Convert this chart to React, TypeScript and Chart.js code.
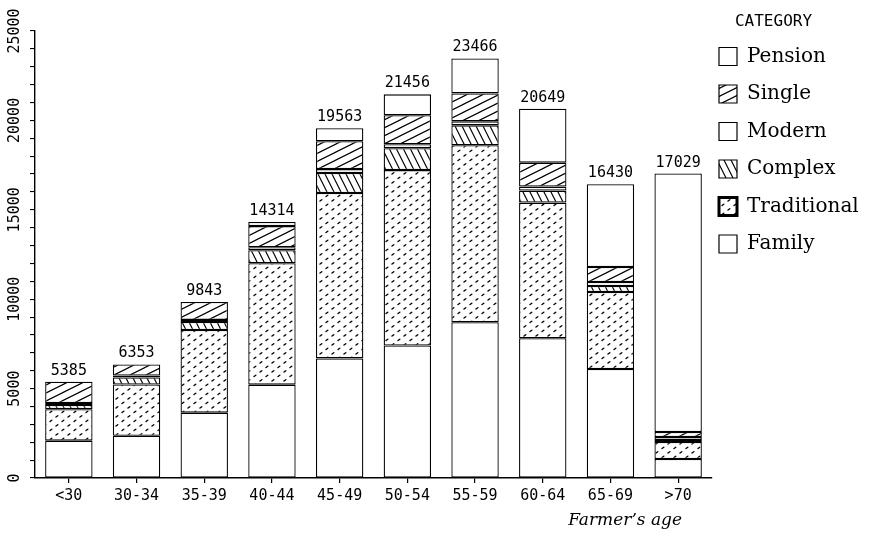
import React, { useEffect, useRef } from 'react';
import { Chart, registerables } from 'chart.js';

Chart.register(...registerables);

// ---- data (stack order: bottom → top) ----
const ageGroups = ['<30', '30-34', '35-39', '40-44', '45-49', '50-54', '55-59', '60-64', '65-69', '>70'];
const family = [2090, 2360, 3656, 5220, 6689, 7413, 8715, 7813, 6100, 1064];
const traditional = [1760, 2870, 4625, 6789, 9250, 9808, 9892, 7591, 4300, 952];
const complex = [230, 390, 450, 730, 1115, 1226, 1117, 670, 336, 112];
const modern = [110, 110, 112, 170, 223, 223, 223, 223, 224, 168];
const single = [1195, 623, 1000, 1180, 1561, 1616, 1564, 1339, 841, 280];
const pension = [0, 0, 0, 225, 725, 1170, 1955, 3013, 4629, 14453];
const totals = ['5385', '6353', '9843', '14314', '19563', '21456', '23466', '20649', '16430', '17029'];
const yMajorTicks = [0, 5000, 10000, 15000, 20000, 25000];
const legendTitle = 'CATEGORY';
const xAxisTitle = 'Farmer’s age';

function makePattern(kind: string): CanvasPattern | string {
  const c = document.createElement('canvas');
  let w = 16, h = 8;
  if (kind === 'complex') { w = 7; h = 14; }
  if (kind === 'dots') { w = 12; h = 9; }
  c.width = w; c.height = h;
  const g = c.getContext('2d');
  if (!g) return '#fff';
  g.fillStyle = '#fff';
  g.fillRect(0, 0, w, h);
  g.strokeStyle = '#000';
  g.lineWidth = 1.2;
  g.lineCap = 'round';
  g.beginPath();
  if (kind === 'single') {
    for (let k = -1; k <= 1; k++) {
      g.moveTo(-2, 9 + 8 * k);
      g.lineTo(18, -1 + 8 * k);
    }
  } else if (kind === 'complex') {
    for (let k = -1; k <= 1; k++) {
      g.moveTo(-1, -2 + 14 * k);
      g.lineTo(8, 16 + 14 * k);
    }
  } else if (kind === 'dots') {
    g.lineWidth = 1.4;
    g.moveTo(2, 7.5); g.lineTo(3.8, 6.2);
    g.moveTo(8, 3); g.lineTo(9.8, 1.7);
  }
  g.stroke();
  const p = g.createPattern(c, 'repeat');
  return p || '#fff';
}

const customPlugin = {
  id: 'customDecor',
  afterLayout(chart: any) {
    const lg = chart.legend;
    if (lg) {
      lg.left = chart.chartArea.right - 10.5;
      lg.right = chart.width;
      lg.width = 144;
      lg.top = 0;
    }
  },
  afterDatasetsDraw(chart: any) {
    const ctx = chart.ctx;
    const meta = chart.getDatasetMeta(chart.data.datasets.length - 1);
    ctx.save();
    ctx.fillStyle = '#000';
    ctx.font = '15px "DejaVu Sans Mono"';
    ctx.textAlign = 'center';
    ctx.textBaseline = 'alphabetic';
    meta.data.forEach((el: any, i: number) => {
      ctx.fillText(totals[i], el.x, el.y - 7);
    });
    ctx.font = 'italic 17px "DejaVu Serif"';
    ctx.textAlign = 'right';
    ctx.fillText(xAxisTitle, chart.chartArea.right - 30, 525);
    ctx.restore();
  },
};

export default function App() {
  const ref = useRef<HTMLCanvasElement>(null);

  useEffect(() => {
    const canvas = ref.current;
    if (!canvas) return;
    const white = '#ffffff';
    const series = [
      { label: 'Family', data: family, bg: white },
      { label: 'Traditional', data: traditional, bg: makePattern('dots') },
      { label: 'Complex', data: complex, bg: makePattern('complex') },
      { label: 'Modern', data: modern, bg: white },
      { label: 'Single', data: single, bg: makePattern('single') },
      { label: 'Pension', data: pension, bg: white },
    ];

    const chart = new Chart(canvas, {
      type: 'bar',
      data: {
        labels: ageGroups,
        datasets: series.map((s) => ({
          label: s.label,
          data: s.data,
          backgroundColor: s.bg as any,
          borderColor: '#000',
          borderWidth: 1.3,
          borderSkipped: false,
          barPercentage: 0.7,
          categoryPercentage: 1,
        })),
      },
      options: {
        responsive: false,
        animation: false,
        devicePixelRatio: 1,
        layout: { padding: { top: 31, right: 19, bottom: 37, left: 0 } },
        plugins: {
          tooltip: { enabled: false },
          legend: {
            position: 'right',
            align: 'start',
            reverse: true,
            maxWidth: 140,
            title: {
              display: true,
              text: legendTitle,
              color: '#000',
              position: 'center',
              font: { family: 'DejaVu Sans Mono', size: 16, lineHeight: 1 },
              padding: { top: 14, bottom: -1 },
            },
            labels: {
              color: '#000',
              font: { family: 'DejaVu Serif', size: 20 },
              boxWidth: 18,
              boxHeight: 18,
              padding: 17.5,
              generateLabels: (ch: any) => {
                const items = Chart.defaults.plugins.legend.labels.generateLabels(ch);
                return items.map((it: any) => ({
                  ...it,
                  strokeStyle: '#000',
                  lineWidth: it.text === 'Traditional' ? 3 : 1.2,
                  fontColor: '#000',
                }));
              },
            },
          },
        },
        scales: {
          x: {
            stacked: true,
            grid: { offset: false, drawOnChartArea: false, drawTicks: true, tickLength: 5, color: '#000', lineWidth: 1.2 },
            border: { display: true, color: '#000', width: 1.6 },
            ticks: {
              color: '#000',
              font: { family: 'DejaVu Sans Mono', size: 15 },
              padding: 4,
              maxRotation: 0,
              autoSkip: false,
            },
            afterFit: (s: any) => { s.height = 27; },
          },
          y: {
            stacked: true,
            min: 0,
            max: 25000,
            grid: { drawOnChartArea: false, drawTicks: true, tickLength: 5, color: '#000', lineWidth: 1.1 },
            border: { display: true, color: '#000', width: 1.4 },
            ticks: {
              stepSize: 1000,
              autoSkip: false,
              minRotation: 90,
              maxRotation: 90,
              crossAlign: 'center',
              padding: -8,
              color: '#000',
              font: { family: 'DejaVu Sans Mono', size: 15 },
              callback: (v: any) => (yMajorTicks.includes(Number(v)) ? String(v) : ''),
            },
            afterFit: (s: any) => { s.width = 35; },
          },
        },
      },
      plugins: [customPlugin],
    } as any);

    return () => chart.destroy();
  }, []);

  return (
    <div style={{ position: 'absolute', left: 0, top: 0, width: 871, height: 542, background: '#fff' }}>
      <canvas ref={ref} width={871} height={542} style={{ display: 'block' }} />
    </div>
  );
}
